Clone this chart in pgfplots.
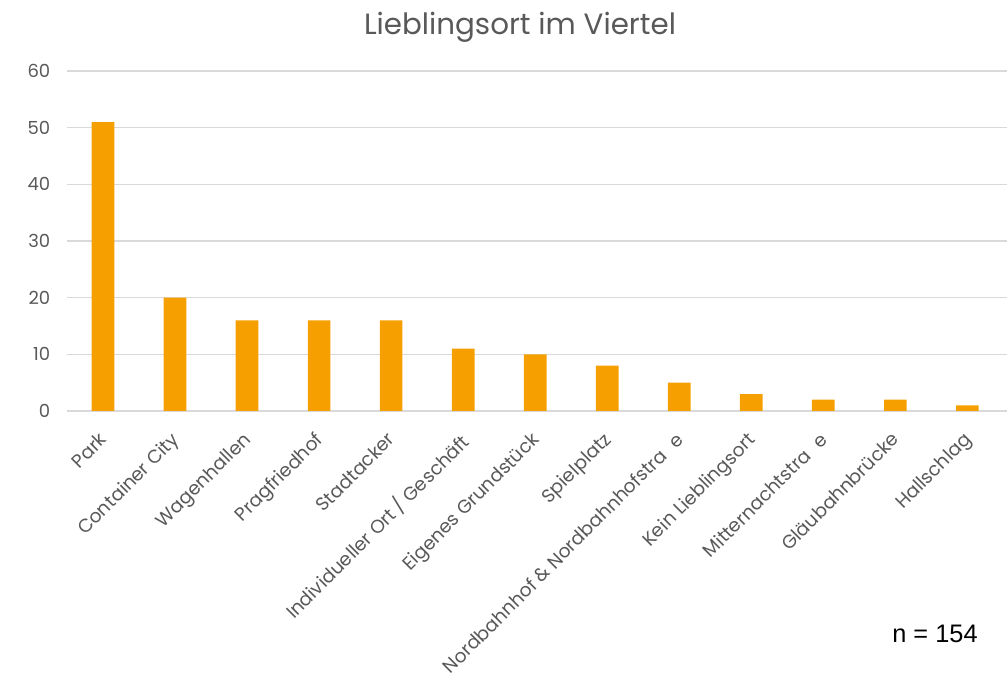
\documentclass[border=0pt]{standalone}
\usepackage{pgfplots}
\pgfplotsset{compat=1.18}
\usepackage{fontspec}
\setmainfont{Poppins}
\newfontfamily\arialfont{Liberation Sans}
\definecolor{barorange}{HTML}{F5A000}
\definecolor{gridgray}{HTML}{D9D9D9}
\definecolor{textgray}{HTML}{595959}

\begin{document}
\begin{tikzpicture}[x=1pt,y=1pt]
% page size = 1008 x 674 px at 0.75pt/px, origin at axis lower left
\useasboundingbox (-50.25,-197.25) rectangle (705.75,308.25);
\begin{axis}[
    at={(0,0)}, anchor=south west,
    scale only axis,
    width=705pt, height=255pt,
    ybar, bar width=17pt,
    ymin=0, ymax=60,
    ytick={0,10,...,60},
    xmin=-0.5, xmax=12.55,
    xtick=data,
    xticklabels={Park, Container City, Wagenhallen, Pragfriedhof, Stadtacker,
      Individueller Ort / Geschäft, Eigenes Grundstück, Spielplatz,
      Nordbahnhof \& Nordbahnhofstra\hspace{0.6em}e, Kein Lieblingsort,
      Mitternachtstra\hspace{0.6em}e, Gläubahnbrücke, Hallschlag},
    x tick label style={rotate=45, anchor=north east, xshift=-9.7pt, yshift=-4.4pt,
      font=\fontsize{14}{16}\selectfont, text=textgray},
    y tick label style={font=\fontsize{13.5}{15}\selectfont, text=textgray, xshift=-9pt},
    /pgf/number format/assume math mode=true,
    axis x line*=bottom,
    axis y line*=left,
    y axis line style={draw=none},
    x axis line style={gridgray, line width=0.8pt},
    ymajorgrids, grid style={gridgray, line width=0.8pt},
    major tick length=0pt,
    clip=false,
]
\addplot[fill=barorange, draw=none] coordinates {
  (0,51) (1,20) (2,16) (3,16) (4,16) (5,11) (6,10) (7,8) (8,5) (9,3) (10,2) (11,2) (12,1)
};
\end{axis}
\node[text=textgray, font=\fontsize{22}{26}\selectfont] at (339.75,287.5) {Lieblingsort im Viertel};
\node[font=\arialfont\fontsize{19}{22}\selectfont] at (651,-167.25) {n = 154};
\end{tikzpicture}
\end{document}
